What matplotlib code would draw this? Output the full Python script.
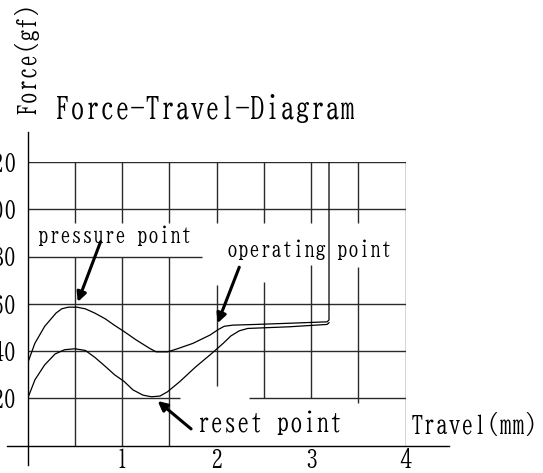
import matplotlib
matplotlib.use('Agg')
import matplotlib.pyplot as plt

# ---- data ----
press_travel = [0.0, 0.077, 0.18, 0.30, 0.36, 0.43, 0.52, 0.61, 0.71, 0.82, 0.92,
                1.02, 1.15, 1.29, 1.36, 1.48, 1.57, 1.75, 1.93, 2.02, 2.08, 2.17,
                2.42, 2.77, 3.17, 3.19, 3.19]
press_force = [35.0, 43.4, 50.5, 56.1, 57.9, 58.6, 58.6, 57.9, 56.1, 53.7, 50.9,
               48.3, 44.7, 41.2, 39.7, 39.7, 40.8, 43.3, 46.8, 49.2, 50.5, 51.0,
               51.3, 51.8, 52.4, 53.2, 120.0]

release_travel = [0.0, 0.077, 0.18, 0.29, 0.39, 0.50, 0.61, 0.71, 0.82, 0.92, 1.02,
                  1.115, 1.22, 1.31, 1.40, 1.48, 1.61, 1.78, 1.93, 2.01, 2.07, 2.15,
                  2.24, 2.33, 2.77, 3.17, 3.19]
release_force = [20.0, 27.9, 34.2, 38.8, 40.6, 41.0, 40.3, 37.4, 33.6, 30.0, 27.2,
                 23.6, 21.4, 20.7, 21.0, 22.8, 27.1, 33.4, 38.4, 41.2, 43.3, 46.4,
                 48.6, 49.6, 50.3, 51.3, 52.0]

x_ticks = [1, 2, 3, 4]
x_tick_labels = ['1', '2', '3', '4']
y_ticks = [20, 40, 60, 80, 100, 120]
y_tick_labels = ['20', '40', '60', '80', '100', '120']

FONT = ['BIZ UDMincho', 'Liberation Mono', 'DejaVu Sans']

fig = plt.figure(figsize=(5.43, 4.73), dpi=100)
ax = fig.add_axes([0.051, 0.0577, 0.6958, 0.5998])
ax.set_xlim(0, 4)
ax.set_ylim(0, 120)
for s in ax.spines.values():
    s.set_visible(False)

grid_color = '#2a2a2a'
# grid segments of the printed chart paper: (level, start, end)
h_segments = [(120, 0, 4), (100, 0, 4), (80, 0, 1.85), (60, 0, 4), (40, 0, 4),
              (20, 0, 1.61), (20, 2.34, 4)]
v_segments = [(0.5, 0, 80), (0.5, 94.3, 120),
              (1, 0, 80), (1, 94.3, 120),
              (1.5, 0, 80), (1.5, 94.3, 120),
              (2, 94.3, 120), (2, 25.2, 67.9),
              (2.5, 94.3, 120), (2.5, 20, 69.2),
              (3, 94.0, 120), (3, 20.2, 76.3),
              (3.5, 94.0, 120), (3.5, 18.0, 75.5),
              (4, 0, 120)]
for y, x0, x1 in h_segments:
    ax.plot([x0, x1], [y, y], color=grid_color, lw=1.0, solid_capstyle='butt')
for x, y0, y1 in v_segments:
    ax.plot([x, x], [y0, y1], color=grid_color, lw=1.0, solid_capstyle='butt')

# axis lines (extend beyond the grid)
ax.plot([-0.22, 4.46], [0, 0], color='black', lw=1.0, clip_on=False)
ax.plot([0, 0], [-8.2, 132.6], color='black', lw=1.0, clip_on=False)

# curves
ax.plot(press_travel, press_force, color='black', lw=0.9, solid_joinstyle='round')
ax.plot(release_travel, release_force, color='black', lw=0.9, solid_joinstyle='round')

# ticks
ax.set_xticks(x_ticks)
ax.set_xticklabels(x_tick_labels, fontfamily=FONT, fontsize=18)
ax.set_yticks(y_ticks)
ax.set_yticklabels(y_tick_labels, fontfamily=FONT, fontsize=18)
ax.tick_params(axis='x', length=0, pad=2)
ax.tick_params(axis='y', length=0, pad=8)

# texts
ax.text(0.29, 142.7, 'Force-Travel-Diagram', fontfamily=FONT, fontsize=21.6,
        ha='left', va='center', clip_on=False)
ax.text(-0.018, 164, 'Force(gf)', fontfamily=FONT, fontsize=18, rotation=90,
        ha='center', va='center', clip_on=False)
ax.text(4.055, 8.8, 'Travel(mm)', fontfamily=FONT, fontsize=18.3,
        ha='left', va='center', clip_on=False)

arrow = dict(arrowstyle='-|>', lw=2.2, color='black', mutation_scale=14,
             shrinkA=0, shrinkB=0)
ax.annotate('', xy=(0.53, 60.8), xytext=(0.77, 86.1), arrowprops=arrow)
ax.annotate('', xy=(2.01, 51.8), xytext=(2.24, 75.5), arrowprops=arrow)
ax.annotate('', xy=(1.376, 18.9), xytext=(1.73, 7.1), arrowprops=arrow)

ax.text(0.11, 88.7, 'pressure point', fontfamily=FONT, fontsize=15.8,
        ha='left', va='center', clip_on=False)
ax.text(2.115, 82.7, 'operating point', fontfamily=FONT, fontsize=15.8,
        ha='left', va='center', clip_on=False)
ax.text(1.79, 9.6, 'reset point', fontfamily=FONT, fontsize=19,
        ha='left', va='center', clip_on=False)

fig.savefig('out.png', dpi=100)
